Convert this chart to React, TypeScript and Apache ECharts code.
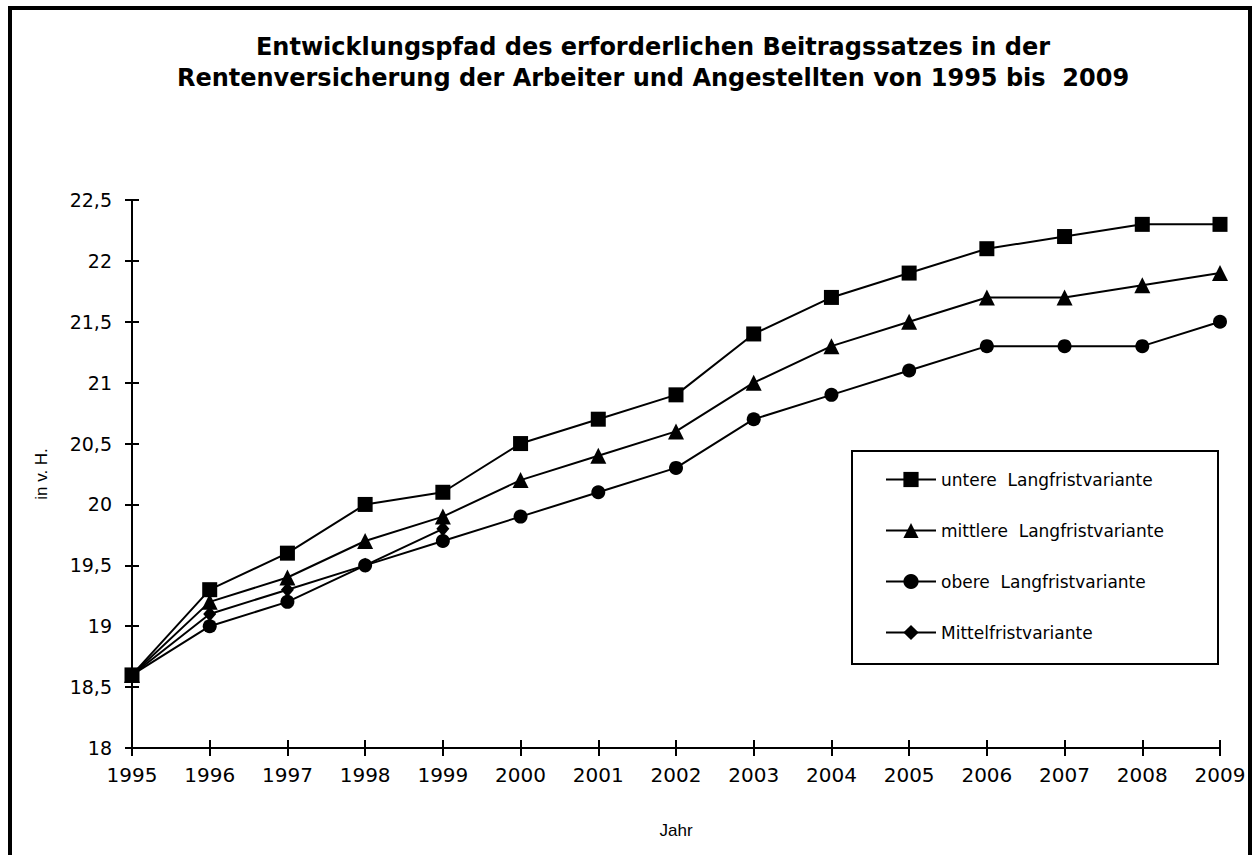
import React, { useEffect, useRef } from "react";
import * as echarts from "echarts";

const years = ["1995", "1996", "1997", "1998", "1999", "2000", "2001", "2002", "2003", "2004", "2005", "2006", "2007", "2008", "2009"];
const untere = [18.6, 19.3, 19.6, 20.0, 20.1, 20.5, 20.7, 20.9, 21.4, 21.7, 21.9, 22.1, 22.2, 22.3, 22.3];
const mittlere = [18.6, 19.2, 19.4, 19.7, 19.9, 20.2, 20.4, 20.6, 21.0, 21.3, 21.5, 21.7, 21.7, 21.8, 21.9];
const obere = [18.6, 19.0, 19.2, 19.5, 19.7, 19.9, 20.1, 20.3, 20.7, 20.9, 21.1, 21.3, 21.3, 21.3, 21.5];
const mittelfrist = [18.6, 19.1, 19.3, 19.5, 19.8];
const seriesNames = ["untere  Langfristvariante", "mittlere  Langfristvariante", "obere  Langfristvariante", "Mittelfristvariante"];
const yMin = 18;
const yMax = 22.5;
const yStep = 0.5;
const titleLines = [
  "Entwicklungspfad des erforderlichen Beitragssatzes in der",
  "Rentenversicherung der Arbeiter und Angestellten von 1995 bis  2009",
];
const yAxisName = "in v. H.";
const xAxisName = "Jahr";

const fmtY = (v: number) => (Number.isInteger(v) ? String(v) : String(v).replace(".", ","));

export default function App() {
  const ref = useRef<HTMLDivElement>(null);
  useEffect(() => {
    if (!ref.current) return;
    const chart = echarts.init(ref.current, null, { renderer: "svg" });
    const axisFont = "DejaVu Sans";
    const titleFont = "bold 24px 'DejaVu Sans', sans-serif";
    const lineBase = {
      type: "line" as const,
      xAxisIndex: 0,
      yAxisIndex: 0,
      lineStyle: { color: "#000", width: 2 },
      itemStyle: { color: "#000" },
      emphasis: { disabled: true },
    };
    chart.setOption({
      animation: false,
      backgroundColor: "#fff",
      grid: { left: 132, right: 40, top: 200, bottom: 107, containLabel: false },
      graphic: [
        {
          type: "rect",
          shape: { x: 10, y: 8, width: 1240, height: 900 },
          style: { fill: "none", stroke: "#000", lineWidth: 4 },
          silent: true,
        },
        {
          type: "rect",
          shape: { x: 852, y: 451, width: 366, height: 213 },
          style: { fill: "#fff", stroke: "#000", lineWidth: 2 },
          silent: true,
          z: 1,
        },
        {
          type: "text",
          x: 653,
          y: 47,
          style: {
            text: titleLines[0],
            textAlign: "center",
            textVerticalAlign: "middle",
            font: titleFont,
            fill: "#000",
          },
        },
        {
          type: "text",
          x: 653,
          y: 78,
          style: {
            text: titleLines[1],
            textAlign: "center",
            textVerticalAlign: "middle",
            font: titleFont,
            fill: "#000",
          },
        },
      ],
      legend: {
        show: true,
        orient: "vertical",
        left: 885,
        top: 470,
        itemWidth: 50,
        itemHeight: 19,
        itemGap: 32,
        padding: 0,
        z: 5,
        textStyle: { fontFamily: axisFont, fontSize: 17, color: "#000", lineHeight: 19 },
        data: seriesNames,
      },
      xAxis: [
        {
          type: "category",
          data: years,
          boundaryGap: false,
          position: "bottom",
          name: xAxisName,
          nameLocation: "middle",
          nameGap: 74,
          nameTextStyle: { fontFamily: "'Liberation Sans', Arial", fontSize: 17, color: "#000" },
          axisLine: { show: true, lineStyle: { color: "#000", width: 2 } },
          axisTick: { show: true, inside: false, length: 8, alignWithLabel: true, lineStyle: { color: "#000", width: 2 } },
          axisLabel: { show: true, interval: 0, margin: 17, fontFamily: axisFont, fontSize: 20, color: "#000" },
          splitLine: { show: false },
        },
        {
          type: "category",
          data: years,
          boundaryGap: false,
          position: "bottom",
          axisLine: { show: false },
          axisTick: { show: true, inside: true, length: 8, lineStyle: { color: "#000", width: 2 } },
          axisLabel: { show: false },
          splitLine: { show: false },
        },
      ],
      yAxis: [
        {
          type: "value",
          min: yMin,
          max: yMax,
          interval: yStep,
          position: "left",
          name: yAxisName,
          nameLocation: "middle",
          nameGap: 82,
          nameRotate: 90,
          nameTextStyle: { fontFamily: "'Liberation Sans', Arial", fontSize: 17, color: "#000" },
          axisLine: { show: true, lineStyle: { color: "#000", width: 2 } },
          axisTick: { show: true, inside: false, length: 7, lineStyle: { color: "#000", width: 2 } },
          axisLabel: { show: true, margin: 20, fontFamily: axisFont, fontSize: 19, color: "#000", formatter: fmtY },
          splitLine: { show: false },
        },
        {
          type: "value",
          min: yMin,
          max: yMax,
          interval: yStep,
          position: "left",
          axisLine: { show: false },
          axisTick: { show: true, inside: true, length: 7, lineStyle: { color: "#000", width: 2 } },
          axisLabel: { show: false },
          splitLine: { show: false },
        },
      ],
      series: [
        { ...lineBase, name: seriesNames[0], data: untere, symbol: "rect", symbolSize: 15, z: 4 },
        { ...lineBase, name: seriesNames[1], data: mittlere, symbol: "triangle", symbolSize: 16, z: 3 },
        { ...lineBase, name: seriesNames[2], data: obere, symbol: "circle", symbolSize: 14, z: 2 },
        { ...lineBase, name: seriesNames[3], data: mittelfrist, symbol: "diamond", symbolSize: [13, 15], z: 3 },
      ],
    });
    return () => chart.dispose();
  }, []);
  return (
    <div style={{ position: "fixed", left: 0, top: 0, width: 1260, height: 855, overflow: "hidden", background: "#fff" }}>
      <div ref={ref} style={{ width: 1260, height: 855 }} />
    </div>
  );
}
